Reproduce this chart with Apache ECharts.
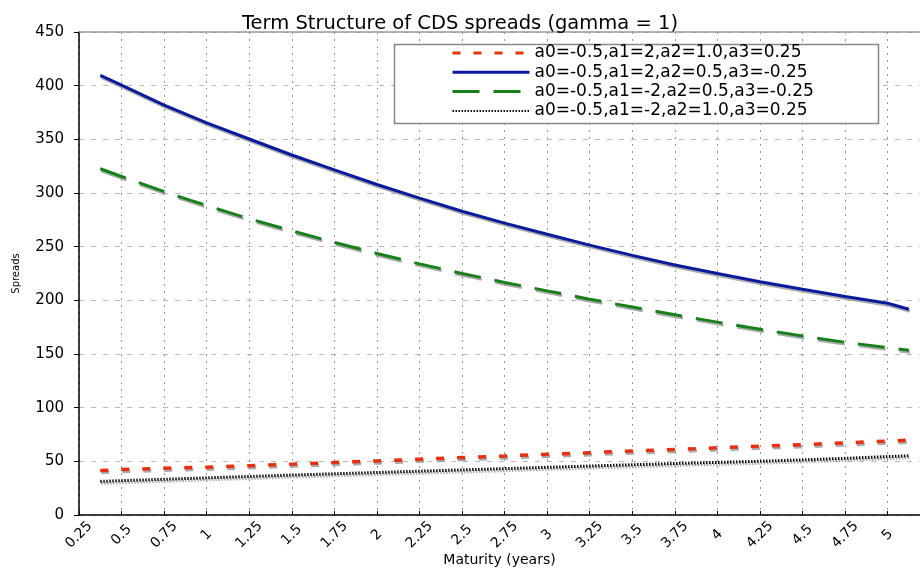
<!DOCTYPE html>
<html><head><meta charset="utf-8">
<script src="https://cdn.jsdelivr.net/npm/echarts@6/dist/echarts.min.js"></script>
<style>html,body{margin:0;padding:0;background:#fff}#c{width:920px;height:569px}</style>
</head><body><div id="c"></div>
<script>
const maturities = [0.375, 0.5, 0.75, 1, 1.25, 1.5, 1.75, 2, 2.25, 2.5, 2.75, 3, 3.25, 3.5, 3.75, 4, 4.25, 4.5, 4.75, 5, 5.125];
const seriesNames = ['a0=-0.5,a1=2,a2=1.0,a3=0.25','a0=-0.5,a1=2,a2=0.5,a3=-0.25','a0=-0.5,a1=-2,a2=0.5,a3=-0.25','a0=-0.5,a1=-2,a2=1.0,a3=0.25'];
const redVals   = [41.5, 42.3, 43.6, 44.6, 45.9, 47.4, 48.9, 50.4, 52, 53.5, 55, 56.6, 58.1, 59.6, 61.1, 62.6, 64.1, 65.6, 67.2, 68.9, 69.7];
const blueVals  = [409.6, 400.5, 381.8, 365.4, 350.3, 335.4, 321.6, 307.9, 295.2, 283, 271.9, 261.5, 251.4, 241.9, 233, 225, 217.4, 210.3, 203.5, 197.3, 191.7];
const greenVals = [322.6, 315.4, 301.2, 288.3, 276, 264.8, 254, 243.7, 234, 225, 216.7, 208.8, 201.1, 193.7, 186.6, 179.7, 173.1, 166.8, 160.9, 156, 153.5];
const blackVals = [31.3, 32, 33.3, 34.6, 35.9, 37.2, 38.4, 39.6, 40.8, 42, 43.2, 44.4, 45.6, 46.8, 48, 49, 50.1, 51.4, 52.8, 54.4, 55.2];
const xTicks = ['0.25','0.5','0.75','1','1.25','1.5','1.75','2','2.25','2.5','2.75','3','3.25','3.5','3.75','4','4.25','4.5','4.75','5'];

const pairs = v => maturities.map((m,i)=>[m, v[i]]);
const shadow = {shadowColor:'rgba(150,150,150,0.8)', shadowBlur:0, shadowOffsetX:1, shadowOffsetY:2};
const font = 'DejaVu Sans, Verdana, sans-serif';
const chart = echarts.init(document.getElementById('c'), null, {renderer:'canvas'});
chart.setOption({
  animation:false,
  title:{text:'Term Structure of CDS spreads (gamma = 1)', left:'center', top:9,
    textStyle:{fontFamily:font, fontSize:19.5, fontWeight:'normal', color:'#000'}},
  grid:{left:79, top:32, right:0, bottom:54, outerBoundsMode:'none', containLabel:false},
  graphic:[{type:'rect', shape:{x:394.5, y:44.5, width:484, height:79}, style:{fill:'#fff', stroke:'#888', lineWidth:1.5}, z:90}],
  legend:{orient:'vertical', left:451, top:44.5, itemWidth:77, itemHeight:14, itemGap:2.3, padding:0, z:100,
    itemStyle:{color:'rgba(0,0,0,0)', borderColor:'rgba(0,0,0,0)', borderWidth:0, opacity:0},
    data:[
      {name:seriesNames[0], lineStyle:{width:3}},
      {name:seriesNames[1], lineStyle:{width:3}},
      {name:seriesNames[2], lineStyle:{width:3}},
      {name:seriesNames[3], lineStyle:{width:2}}
    ],
    textStyle:{fontFamily:font, fontSize:17, color:'#000'}},
  xAxis:[{type:'value', min:0.25, max:5.19, interval:0.25,
    name:'Maturity (years)', nameLocation:'middle', nameGap:38, nameMoveOverlap:false,
    nameTextStyle:{fontFamily:font, fontSize:14, color:'#000'},
    axisLine:{lineStyle:{color:'#000', width:1.5}},
    axisTick:{inside:true, length:4, lineStyle:{color:'#000'}},
    axisLabel:{rotate:45, align:'center', verticalAlign:'middle', fontFamily:font, fontSize:14, color:'#000', margin:20, showMaxLabel:false,
      formatter:(v)=>{const i=Math.round((v-0.25)/0.25); return (Math.abs(v-0.25-i*0.25)<1e-6 && xTicks[i])?xTicks[i]:'';}},
    splitLine:{show:true, lineStyle:{color:'#999', type:[2,5], width:1}}
  },{type:'value', position:'top', min:0.25, max:5.19, interval:0.25,
    axisLine:{show:true, lineStyle:{color:'#999', width:1.5}}, axisTick:{show:false}, axisLabel:{show:false}, splitLine:{show:false}}],
  yAxis:{type:'value', min:0, max:450, interval:50,
    name:'Spreads', nameLocation:'middle', nameGap:58, nameRotate:90, nameMoveOverlap:false,
    nameTextStyle:{fontFamily:font, fontSize:10, color:'#000'},
    axisLine:{show:true, lineStyle:{color:'#000', width:1.5}},
    axisTick:{show:true, length:5, lineStyle:{color:'#000'}},
    axisLabel:{fontFamily:font, fontSize:15, color:'#000', margin:15},
    splitLine:{show:true, lineStyle:{color:'#bbb', type:[5,7], width:1}}
  },
  series:[
    {name:seriesNames[0], type:'line', showSymbol:false, symbol:'none', data:pairs(redVals), z:5,
      lineStyle:Object.assign({color:'#e8300e', width:3.5, type:[8,13]}, shadow), itemStyle:{color:'#e8300e'}},
    {name:seriesNames[1], type:'line', showSymbol:false, symbol:'none', data:pairs(blueVals), z:5,
      lineStyle:Object.assign({color:'#0a1a9c', width:3, type:'solid'}, shadow), itemStyle:{color:'#0a1a9c'}},
    {name:seriesNames[2], type:'line', showSymbol:false, symbol:'none', data:pairs(greenVals), z:5,
      lineStyle:Object.assign({color:'#17801a', width:3, type:[27,14]}, shadow), itemStyle:{color:'#17801a'}},
    {name:seriesNames[3], type:'line', showSymbol:false, symbol:'none', data:pairs(blackVals), z:5,
      lineStyle:Object.assign({color:'#111', width:3, type:[1.5,1.5]}, shadow), itemStyle:{color:'#111'}}
  ]
});
</script></body></html>
